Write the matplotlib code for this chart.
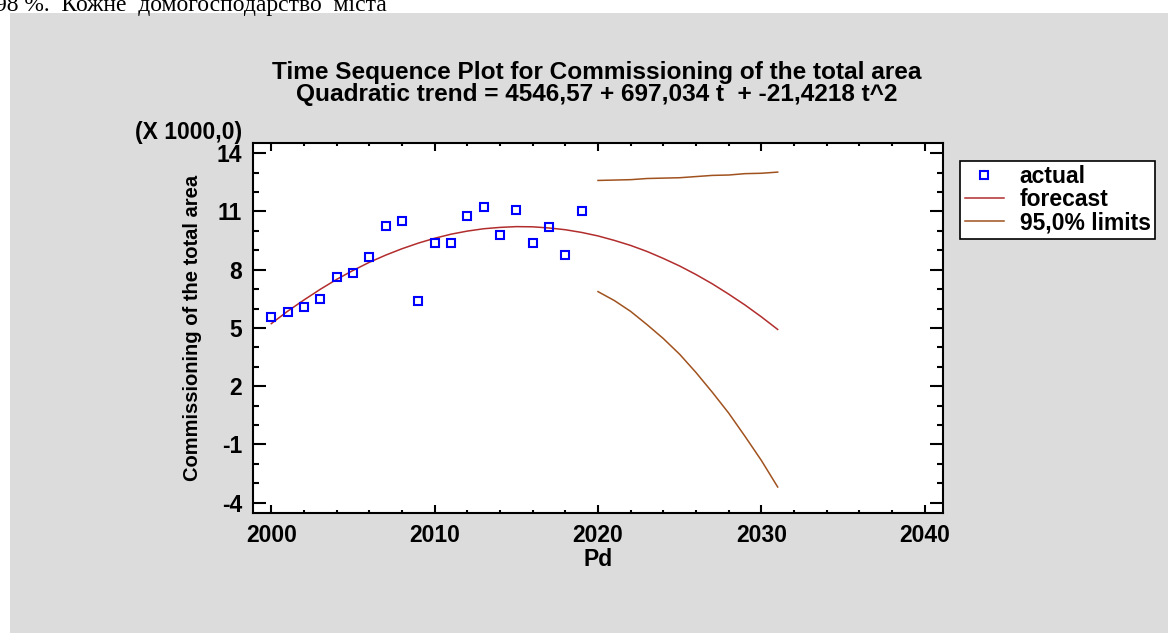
import matplotlib
matplotlib.use('Agg')
import matplotlib.pyplot as plt
from matplotlib.patches import Rectangle
from matplotlib.ticker import MultipleLocator, FixedLocator

plt.rcParams['font.family'] = ['Liberation Sans', 'DejaVu Sans']
plt.rcParams['font.weight'] = 'bold'
plt.rcParams['axes.unicode_minus'] = False

# data, in thousands
years = list(range(2000, 2020))
actual = [5.57, 5.83, 6.07, 6.47, 7.60, 7.84, 8.65, 10.27, 10.51, 6.38,
          9.39, 9.39, 10.77, 11.25, 9.79, 11.08, 9.39, 10.18, 8.74, 11.01]

fc_years = list(range(2000, 2032))
forecast = [5.22, 5.86, 6.44, 6.99, 7.50, 7.96, 8.38, 8.75, 9.08, 9.37,
            9.62, 9.83, 9.99, 10.11, 10.18, 10.22, 10.21, 10.15, 10.06, 9.92,
            9.74, 9.51, 9.25, 8.94, 8.58, 8.19, 7.75, 7.27, 6.74, 6.18,
            5.57, 4.92]

lim_years = list(range(2020, 2032))
upper = [12.60, 12.62, 12.64, 12.70, 12.72, 12.74, 12.80, 12.86, 12.88, 12.95, 12.97, 13.03]
lower = [6.87, 6.41, 5.85, 5.17, 4.45, 3.64, 2.70, 1.68, 0.61, -0.59, -1.83, -3.20]

y_ticks = [-4, -1, 2, 5, 8, 11, 14]
x_ticks = [2000, 2010, 2020, 2030, 2040]

BLUE = '#0000FF'; RED = '#B22D2D'; BROWN = '#A0521E'; GRAY = '#DCDCDC'

W, H = 1168, 633
fig = plt.figure(figsize=(W / 100, H / 100), dpi=100)
fig.patch.set_facecolor('white')
fig.patches.append(Rectangle((9.5 / W, 0), 1, 1 - 13 / H, transform=fig.transFigure,
                             facecolor=GRAY, edgecolor='none', zorder=-5))

# cut-off line of the surrounding document
fig.text(-5 / W, 1 - 11.5 / H, '98 %.  Кожне  домогосподарство  міста',
         family=['Liberation Serif', 'DejaVu Serif'], fontweight='normal',
         fontsize=17, va='baseline', ha='left')

ax = fig.add_axes([253 / W, 1 - 513 / H, (943 - 253) / W, (513 - 143) / H])
ax.set_facecolor('white')

ax.plot(years, actual, ls='none', marker='s', ms=6, mfc='none', mec=BLUE, mew=1.5,
        label='actual', zorder=4)
ax.plot(fc_years, forecast, color=RED, lw=1.1, label='forecast', zorder=3)
ax.plot(lim_years, upper, color=BROWN, lw=1.1, label='95,0% limits', zorder=3)
ax.plot(lim_years, lower, color=BROWN, lw=1.1, zorder=3)

ax.set_xlim(1998.88, 2041.12)
ax.set_ylim(-4.54, 14.53)
ax.xaxis.set_major_locator(FixedLocator(x_ticks))
ax.xaxis.set_minor_locator(MultipleLocator(2))
ax.yaxis.set_major_locator(FixedLocator(y_ticks))
ax.yaxis.set_minor_locator(MultipleLocator(1))

for s in ax.spines.values():
    s.set_linewidth(1.5)
ax.tick_params(axis='x', which='both', direction='in', top=True, width=1.5, labelsize=16.5, pad=8)
ax.tick_params(axis='x', which='major', length=6)
ax.tick_params(axis='x', which='minor', length=2.5)
ax.tick_params(axis='y', which='both', direction='in', right=True, width=1.5, labelsize=16.5, pad=8)
ax.tick_params(axis='y', which='major', length=9.5)
ax.tick_params(axis='y', which='minor', length=4)
for lab in ax.get_xticklabels() + ax.get_yticklabels():
    lab.set_fontweight('bold')

ax.set_xlabel('Pd', fontsize=16.5, fontweight='bold', labelpad=1)
ax.set_ylabel('Commissioning of the total area', fontsize=14.5, fontweight='bold', labelpad=10)

fig.text(242 / W, 1 - 139 / H, '(X 1000,0)', fontsize=16.5, fontweight='bold',
         ha='right', va='baseline')

fig.text(597 / W, 1 - 72 / H, 'Time Sequence Plot for Commissioning of the total area',
         fontsize=17.6, fontweight='bold', ha='center', va='center')
fig.text(597 / W, 1 - 95 / H, 'Quadratic trend = 4546,57 + 697,034 t  + -21,4218 t^2',
         fontsize=17.6, fontweight='bold', ha='center', va='center')

leg = ax.legend(loc='upper left', bbox_to_anchor=(960 / W, 1 - 160.7 / H),
                bbox_transform=fig.transFigure, fontsize=16.5, numpoints=1,
                handlelength=1.7, handletextpad=0.7, borderpad=0.2,
                labelspacing=0.0, borderaxespad=0, fancybox=False,
                framealpha=1, edgecolor='black', facecolor='white')
leg.get_frame().set_linewidth(1.2)
for t in leg.get_texts():
    t.set_fontweight('bold')

fig.savefig('out.png', dpi=100, facecolor='white')
